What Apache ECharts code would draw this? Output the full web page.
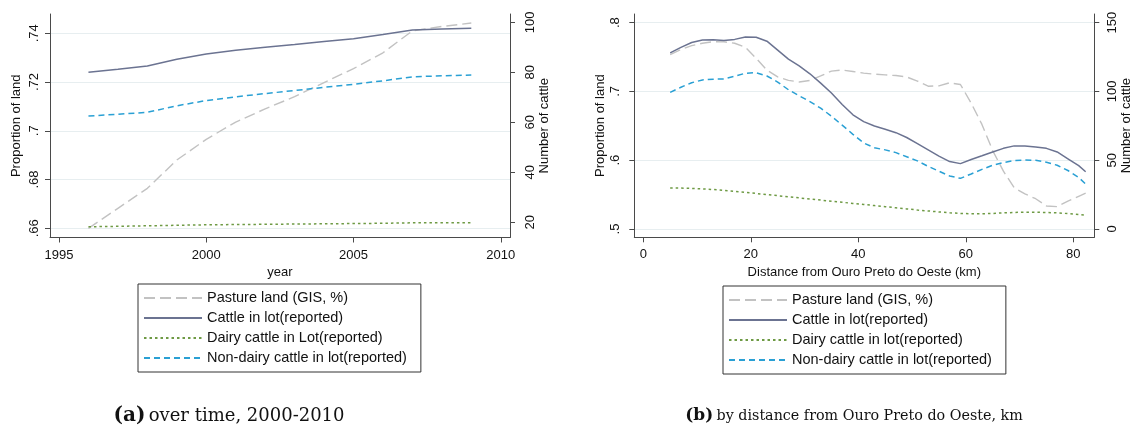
<!DOCTYPE html>
<html><head><meta charset="utf-8">
<script src="https://cdn.jsdelivr.net/npm/echarts@6/dist/echarts.min.js"></script>
<style>html,body{margin:0;padding:0;background:#fff}#c{width:1135px;height:432px}</style>
</head><body><div id="c"></div>
<script>
// ---- Panel (a): over time ----
const years = [1996,1997,1998,1999,2000,2001,2002,2003,2004,2005,2006,2007,2008,2009];
const pastureYear = [0.660,0.6682,0.6764,0.688,0.6965,0.7036,0.7090,0.7140,0.7198,0.7255,0.7320,0.7410,0.7428,0.7442];
const cattleYear = [80.0,81.2,82.5,85.2,87.3,88.8,90.0,91.1,92.3,93.4,95.1,96.9,97.3,97.6];
const dairyYear = [18.2,18.4,18.6,18.8,19.0,19.1,19.2,19.3,19.4,19.5,19.6,19.8,19.8,19.8];
const nonDairyYear = [62.5,63.2,64.0,66.6,68.7,70.2,71.5,72.7,74.0,75.2,76.6,78.2,78.6,78.9];
const yearTicks = [1995,2000,2005,2010];
const propTicksA = [0.66,0.68,0.70,0.72,0.74];
const cattleTicksA = [20,40,60,80,100];

// ---- Panel (b): by distance ----
const distance = [5,7,9,11,13,15,17,19,21,23,25,27,29,31,33,35,37,39,41,43,45,47,49,51,53,55,57,59,61,63,65,67,69,71,73,75,77,79,81,82.3];
const pastureDist = [.7535,.7610,.7665,.7700,.7722,.7720,.7700,.7640,.7480,.7310,.7210,.7160,.7137,.7160,.7225,.7295,.7311,.7290,.7265,.7250,.7240,.7230,.7210,.7150,.7075,.7080,.7125,.7100,.6830,.6520,.6140,.5840,.5600,.5510,.5440,.5335,.5325,.5405,.5475,.5520];
const cattleDist = [128,132,135.5,137.3,137.5,137,137.8,139.5,139.3,136.5,130,123.5,118.5,112.8,106,98.8,90.5,83,78,74.8,72.5,70,66.5,62,57.5,53,49,47.5,50.5,53.2,56,58.6,60.4,60.3,59.6,58.6,56,51,46,41.6];
const dairyDist = [29.7,29.7,29.5,29.1,28.7,28.1,27.4,26.6,25.8,25.0,24.2,23.4,22.6,21.8,21.0,20.2,19.4,18.6,17.8,17.0,16.2,15.4,14.6,13.8,13.1,12.4,11.8,11.3,11.1,11.1,11.3,11.7,12.0,12.2,12.2,12.0,11.7,11.2,10.5,10.0];
const nonDairyDist = [99.3,103,106.3,108.3,108.9,109.1,111,113.2,113.6,111.2,106.8,101.2,96.8,92.6,87.8,82,75.5,68.8,62.5,59,57.5,55.5,52.5,49.5,45.5,42,38.5,36.8,40,43.3,46.3,48.3,49.7,50.1,49.9,48.5,46.3,42.5,37.5,32.6];
const distTicks = [0,20,40,60,80];
const propTicksB = [0.5,0.6,0.7,0.8];
const cattleTicksB = [0,50,100,150];

const namesA = ['Pasture land (GIS, %)','Cattle in lot(reported)','Dairy cattle in Lot(reported)','Non-dairy cattle in lot(reported)'];
const namesB = ['Pasture land (GIS, %)','Cattle in lot(reported)','Dairy cattle in lot(reported)','Non-dairy cattle in lot(reported)'];

const FONT = 'Liberation Sans, Arial, sans-serif';
const AX = '#4a4a4a';
const GRIDC = '#e7eef0';
const styles = [
  {color:'#c2c2c2', width:1.4, type:[11,5]},
  {color:'#6b7391', width:1.5, type:'solid'},
  {color:'#6e9a44', width:1.5, type:[2.5,3]},
  {color:'#2aa0d4', width:1.5, type:[6,4]}
];
const zip = (xs, ys) => xs.map((x,i)=>[x, ys[i]]);
const stripZero = v => { let s = String(Number(v.toFixed(2))); return s.replace(/^0\./,'.'); };
const plain = v => String(Math.round(v));

function xAxisCfg(gi, min, max, ticks, name) {
  return {
    type:'value', gridIndex:gi, min:min, max:max, name:name, nameLocation:'middle', nameGap:21,
    nameTextStyle:{fontFamily:FONT, fontSize:13, color:'#111'},
    axisLine:{show:true, onZero:false, lineStyle:{color:AX, width:1}},
    axisTick:{show:true, length:5, customValues:ticks, lineStyle:{color:AX}},
    axisLabel:{customValues:ticks, margin:11, fontFamily:FONT, fontSize:13, color:'#111', formatter:plain},
    splitLine:{show:false}
  };
}
function yAxisCfg(gi, pos, min, max, ticks, name, fmt, grid, margin, nameGap) {
  return {
    type:'value', gridIndex:gi, position:pos, min:min, max:max, name:name,
    nameLocation:'middle', nameGap:nameGap, nameRotate:90,
    nameTextStyle:{fontFamily:FONT, fontSize:13, color:'#111'},
    axisLine:{show:true, onZero:false, lineStyle:{color:AX, width:1}},
    axisTick:{show:true, length:5, customValues:ticks, lineStyle:{color:AX}},
    axisLabel:{customValues:ticks, rotate:90, margin:margin, fontFamily:FONT, fontSize:13, color:'#111', formatter:fmt},
    splitLine:{show:grid, lineStyle:{color:GRIDC, width:1.2}}
  };
}
function mk(name, xa, ya, xs, ys, st) {
  return {name:name, type:'line', xAxisIndex:xa, yAxisIndex:ya, data:zip(xs,ys), symbol:'none',
    showSymbol:false, lineStyle:st, itemStyle:{color:st.color}, z: 3};
}
function legendCfg(left, top, names) {
  return {orient:'vertical', left:left, top:top, padding:[6,14,6,5], itemWidth:58, itemHeight:14, itemGap:4,
    borderColor:'#333', borderWidth:1, selectedMode:false, data:names,
    itemStyle:{color:'rgba(0,0,0,0)', borderWidth:0, opacity:0},
    textStyle:{fontFamily:FONT, fontSize:14.5, color:'#111', lineHeight:16}};
}

const chart = echarts.init(document.getElementById('c'), null, {renderer:'canvas'});
chart.setOption({
  animation:false,
  backgroundColor:'#fff',
  grid:[
    {left:50, top:14, width:460, height:223.5},
    {left:634.3, top:14, width:460, height:223.3}
  ],
  xAxis:[
    xAxisCfg(0, 1994.694, 2010.314, yearTicks, 'year'),
    xAxisCfg(1, -1.674, 83.907, distTicks, 'Distance from Ouro Preto do Oeste (km)')
  ],
  yAxis:[
    yAxisCfg(0,'left', 0.656226, 0.747918, propTicksA, 'Proportion of land', stripZero, true, 9, 27),
    yAxisCfg(0,'right', 13.92, 103.32, cattleTicksA, 'Number of cattle', plain, false, 14, 25),
    yAxisCfg(1,'left', 0.4879, 0.8125, propTicksB, 'Proportion of land', stripZero, true, 12, 27),
    yAxisCfg(1,'right', -6.05, 156.25, cattleTicksB, 'Number of cattle', plain, false, 12, 24)
  ],
  legend:[ legendCfg(138, 284, namesA), legendCfg(723, 286, namesB) ],
  series:[
    mk(namesA[0],0,0,years,pastureYear,styles[0]),
    mk(namesA[1],0,1,years,cattleYear,styles[1]),
    mk(namesA[2],0,1,years,dairyYear,styles[2]),
    mk(namesA[3],0,1,years,nonDairyYear,styles[3]),
    mk(namesB[0],1,2,distance,pastureDist,styles[0]),
    mk(namesB[1],1,3,distance,cattleDist,styles[1]),
    mk(namesB[2],1,3,distance,dairyDist,styles[2]),
    mk(namesB[3],1,3,distance,nonDairyDist,styles[3])
  ],
  graphic:[
    {type:'text', x:229, y:416, style:{text:'{b|(a)} {t|over time, 2000-2010}', align:'center', verticalAlign:'middle',
      rich:{b:{fontFamily:'DejaVu Serif, serif', fontWeight:'bold', fontSize:20, fill:'#111'}, t:{fontFamily:'DejaVu Serif, serif', fontSize:18, fill:'#111'}}}},
    {type:'text', x:854, y:416, style:{text:'{b|(b)} {t|by distance from Ouro Preto do Oeste, km}', align:'center', verticalAlign:'middle',
      rich:{b:{fontFamily:'DejaVu Serif, serif', fontWeight:'bold', fontSize:17, fill:'#111'}, t:{fontFamily:'DejaVu Serif, serif', fontSize:14.3, fill:'#111'}}}}
  ]
});
</script></body></html>
